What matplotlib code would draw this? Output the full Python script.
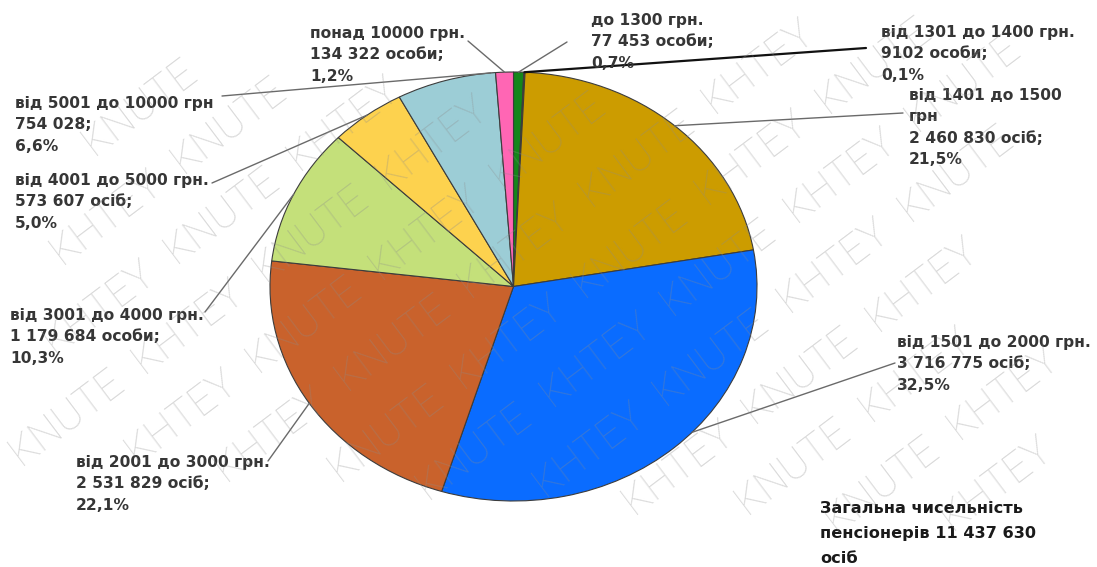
import matplotlib
matplotlib.use("Agg")
import matplotlib.pyplot as plt
import numpy as np

# pension size groups, clockwise from the top of the pie
groups = ["до 1300 грн.", "від 1301 до 1400 грн.", "від 1401 до 1500\nгрн",
          "від 1501 до 2000 грн.", "від 2001 до 3000 грн.", "від 3001 до 4000 грн.",
          "від 4001 до 5000 грн.", "від 5001 до 10000 грн", "понад 10000 грн."]
people = [77453, 9102, 2460830, 3716775, 2531829, 1179684, 573607, 754028, 134322]
people_word = ["особи", "особи", "осіб", "осіб", "осіб", "особи", "осіб", "", "особи"]
colors = ["#14861a", "#4a2c10", "#cc9c00", "#0a6cff", "#c9622c",
          "#c4e07a", "#fdd24e", "#9ccdd6", "#ff66b4"]
watermark_words = ["KNUTE", "KHTEY"]

W, H = 1097, 567


def fmt_int(n):
    if n < 10000:
        return str(n)
    return f"{n:,}".replace(",", " ")


def fmt_pct(v):
    return f"{v:.1f}".replace(".", ",") + "%"


total = sum(people)
shares = [100 * p / total for p in people]

fig = plt.figure(figsize=(W / 100, H / 100), dpi=100)
fig.patch.set_facecolor("white")

# pie box in pixels: left, top, right, bottom (the pie is stretched to an ellipse)
px0, py0, px1, py1 = 270, 72, 757, 501
ax = fig.add_axes([px0 / W, 1 - py1 / H, (px1 - px0) / W, (py1 - py0) / H])
wedges, _ = ax.pie(people, colors=colors, startangle=90, counterclock=False, radius=1,
                   wedgeprops=dict(edgecolor="#3c3c3c", linewidth=0.8))
ax.set_xlim(-1, 1)
ax.set_ylim(-1, 1)
ax.set_aspect("auto")
ax.axis("off")

# label block: left x, first baseline (px), leader end (px), anchor position inside wedge
label_pos = [
    (591, 25, (567, 42), 0.5),
    (881, 37, (866, 48), 0.5),
    (909, 100, (903, 113), 0.5),
    (897, 347, (895, 363), 0.45),
    (76, 467, (268, 461), 0.5),
    (10, 320, (205, 312), 0.5),
    (15, 185, (212, 183), 0.5),
    (15, 108, (222, 96), 0.95),
    (310, 38, (468, 41), 0.5),
]
line_step = 21.3


def put_lines(x, y0, lines, step, **kw):
    for k, line in enumerate(lines):
        fig.text(x / W, 1 - (y0 + k * step) / H, line, va="baseline", ha="left", **kw)


for i, w in enumerate(wedges):
    x, y0, end, t = label_pos[i]
    lines = groups[i].split("\n")
    second = fmt_int(people[i]) + (" " + people_word[i] if people_word[i] else "") + ";"
    lines += [second, fmt_pct(shares[i])]
    put_lines(x, y0, lines, line_step, fontsize=11.2, fontweight="bold",
              color="#363636", family="DejaVu Sans")
    # leader line from the wedge rim to the label
    ang = np.deg2rad(w.theta2 - t * (w.theta2 - w.theta1))
    dark = i == 1
    ax.annotate("", xy=(np.cos(ang), np.sin(ang)), xycoords="data",
                xytext=(end[0] / W, 1 - end[1] / H), textcoords="figure fraction",
                arrowprops=dict(arrowstyle="-", color="#111111" if dark else "#6a6a6a",
                                lw=1.6 if dark else 1.0, shrinkA=0, shrinkB=0),
                annotation_clip=False)

put_lines(820, 513, ["Загальна чисельність", "пенсіонерів " + fmt_int(total), "осіб"],
          25, fontsize=11.6, fontweight="bold", color="#1a1a1a", family="DejaVu Sans")

# repeated diagonal watermark, only whole words that fit in the figure
renderer = fig.canvas.get_renderer()
wm_style = dict(fontsize=30, color="#8c8c8c", alpha=0.32, family=["Roboto", "DejaVu Sans"],
                fontweight="light", va="baseline", ha="left", zorder=10)
word_len = {}
for word in watermark_words:
    tmp = fig.text(0, 0, word, **wm_style)
    word_len[word] = tmp.get_window_extent(renderer).width
    tmp.remove()

rot = np.deg2rad(37)
along = np.array([np.cos(rot), np.sin(rot)])
across = np.array([np.sin(rot), -np.cos(rot)])
gap = 22
for r in range(-10, 14):
    p = r * 68 * across - 900 * along + (r % 2) * 60 * along
    for c in range(16):
        word = watermark_words[c % 2]
        if -250 < p[0] < W + 50 and -250 < p[1] < H + 50:
            t = fig.text(p[0] / W, p[1] / H, word, rotation=37, rotation_mode="anchor",
                         **wm_style)
            bb = t.get_window_extent(renderer)
            if bb.x0 < 0 or bb.y0 < 0 or bb.x1 > W or bb.y1 > H:
                t.remove()
        p = p + (word_len[word] + gap) * along

fig.savefig("out.png", dpi=100, facecolor="white")
